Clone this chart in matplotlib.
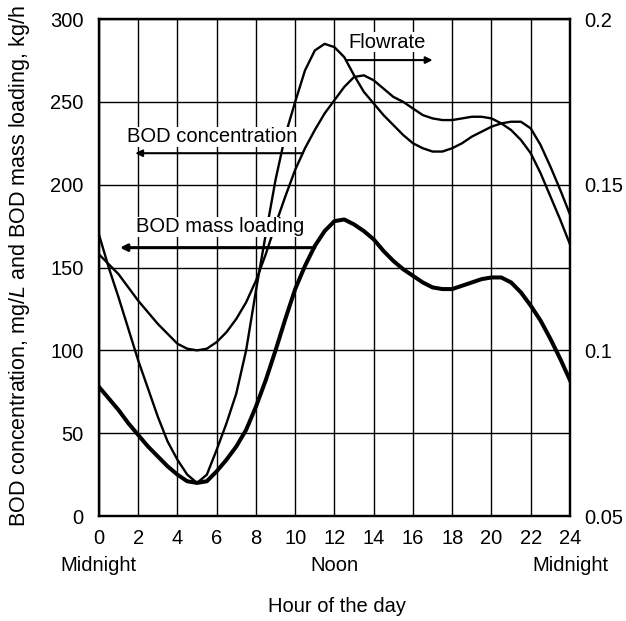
import numpy as np
import matplotlib.pyplot as plt
import matplotlib.transforms as mtransforms

plt.rcParams.update({
    'font.family': ['Liberation Sans', 'DejaVu Sans'],
    'font.size': 14.5,
    'mathtext.fontset': 'custom',
    'mathtext.it': 'Liberation Sans:italic',
    'mathtext.rm': 'Liberation Sans',
})

# hour of the day, every half hour
hours = np.arange(0, 24.5, 0.5)

# flowrate, m3/s (right axis) -- in left-axis units first
flow_left_units = [170, 150, 132, 113, 94, 77, 60, 45, 34, 25,
                   20, 25, 40, 56, 74, 100, 136, 170, 203, 230,
                   250, 269, 281, 285, 283, 277, 266, 256, 249, 242,
                   236, 230, 225, 222, 220, 220, 222, 225, 229, 232,
                   235, 237, 238, 238, 234, 224, 211, 197, 182]
flowrate = [0.05 + v / 2000 for v in flow_left_units]

# BOD concentration, mg/L
bod_conc = [158, 152, 146, 138, 130, 123, 116, 110, 104, 101,
            100, 101, 105, 111, 119, 129, 142, 158, 176, 193,
            209, 222, 233, 243, 251, 259, 265, 266, 263, 258,
            253, 250, 246, 242, 240, 239, 239, 240, 241, 241,
            240, 237, 233, 227, 219, 207, 193, 179, 164]

# BOD mass loading, kg/h
bod_load = [78, 71, 64, 56, 49, 42, 36, 30, 25, 21,
            20, 21, 27, 34, 42, 52, 66, 82, 100, 119,
            137, 151, 163, 172, 178, 179, 176, 172, 167, 160,
            154, 149, 145, 141, 138, 137, 137, 139, 141, 143,
            144, 144, 141, 135, 127, 118, 107, 95, 82]

x_ticks = list(range(0, 25, 2))
left_ticks = [0, 50, 100, 150, 200, 250, 300]
right_ticks = [0.05, 0.1, 0.15, 0.2]
right_labels = ['0.05', '0.1', '0.15', '0.2']

fig = plt.figure(figsize=(6.26, 6.21), dpi=100)
ax = fig.add_axes([0.158, 0.169, 0.7525, 0.8004])
ax2 = ax.twinx()

line_kw = dict(color='black', solid_joinstyle='round', zorder=3)
ax.plot(hours, bod_conc, lw=1.7, **line_kw)
ax.plot(hours, bod_load, lw=2.9, **line_kw)
ax2.plot(hours, flowrate, lw=1.7, **line_kw)

ax.set_xlim(0, 24)
ax.set_ylim(0, 300)
ax2.set_ylim(0.05, 0.2)

ax.set_xticks(x_ticks)
ax.set_yticks(left_ticks)
ax2.set_yticks(right_ticks)
ax2.set_yticklabels(right_labels)
ax.grid(True, color='black', lw=1.0)
ax.set_axisbelow(True)

ax.tick_params(axis='x', length=0, pad=9)
ax.tick_params(axis='y', length=0, pad=11)
ax2.tick_params(length=0, pad=10)
for a in (ax, ax2):
    for s in a.spines.values():
        s.set_linewidth(1.6)

# Midnight / Noon under the hour ticks
trans = mtransforms.blended_transform_factory(ax.transData, ax.transAxes)
for h, name in [(0, 'Midnight'), (12, 'Noon'), (24, 'Midnight')]:
    ax.text(h, -0.099, name, transform=trans, ha='center', va='center')

fig.text(20 / 626, 1 - 266 / 621,
         r'BOD concentration, mg/$\mathit{L}$ and BOD mass loading, kg/h',
         rotation=90, ha='center', va='center', fontsize=15.5)
fig.text(337 / 626, 1 - 607 / 621, 'Hour of the day', ha='center', va='center')

# labels with arrows
box = dict(facecolor='white', edgecolor='none', pad=0.5)
ax2.annotate('', xy=(17.0, 0.1876), xytext=(12.65, 0.1876),
             arrowprops=dict(arrowstyle='-|>', color='black', lw=1.5,
                             mutation_scale=10, shrinkA=0, shrinkB=0))
ax2.text(14.7, 0.193, 'Flowrate', ha='center', va='center', bbox=box)

ax2.annotate('', xy=(1.85, 219), xytext=(10.4, 219), xycoords=ax.transData,
             arrowprops=dict(arrowstyle='-|>', color='black', lw=1.5,
                             mutation_scale=10, shrinkA=0, shrinkB=0))
ax2.text(5.76, 229, 'BOD concentration', transform=ax.transData,
         ha='center', va='center', bbox=box)

ax2.annotate('', xy=(1.07, 162), xytext=(11.0, 162), xycoords=ax.transData,
             arrowprops=dict(arrowstyle='-|>', color='black', lw=2.2,
                             mutation_scale=10, shrinkA=0, shrinkB=0))
ax2.text(6.16, 174.5, 'BOD mass loading', transform=ax.transData,
         ha='center', va='center', bbox=box)

fig.savefig('out.png', dpi=100, facecolor='white')
